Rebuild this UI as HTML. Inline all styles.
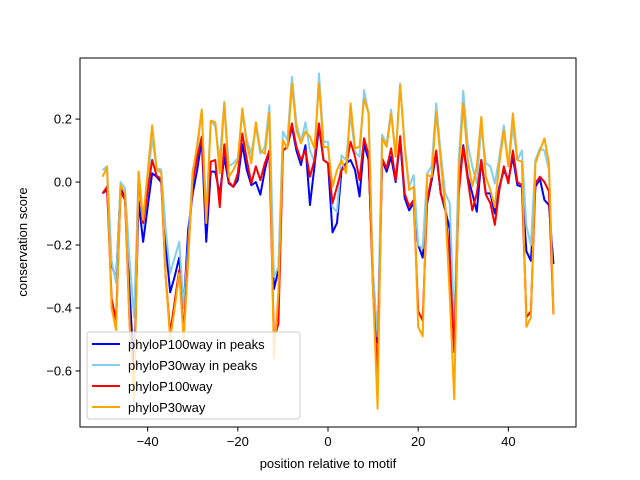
<!DOCTYPE html>
<html><head><meta charset="utf-8"><style>
body{margin:0;background:#fff;}
svg{display:block;font-family:"Liberation Sans","DejaVu Sans",sans-serif;}
</style></head><body>
<svg id="chart" width="640" height="480" xmlns="http://www.w3.org/2000/svg">
<rect width="640" height="480" fill="#fff"/>
<g id="plot"></g>
<rect x="80" y="58" width="496" height="369" fill="none" stroke="#000" stroke-width="1"/>
<g id="xt"></g>
<g id="yt"></g>
<text x="328" y="468" text-anchor="middle" font-size="13">position relative to motif</text>
<text transform="translate(27,242) rotate(-90)" text-anchor="middle" font-size="13">conservation score</text>
<g id="legend"></g>
</svg>
<script>
const seriesNames=["phyloP100way in peaks","phyloP30way in peaks","phyloP100way","phyloP30way"];
const seriesColors=["#0000ff","#87ceeb","#ff0000","#ffa500"];
const xTicks=[-40,-20,0,20,40];
const yTicks=[-0.6,-0.4,-0.2,0.0,0.2];
const yTickLabels=["−0.6","−0.4","−0.2","0.0","0.2"];
const blue=[-0.036,-0.025,-0.26,-0.31,-0.015,-0.057,-0.35,-0.6,-0.06,-0.19,-0.08,0.028,0.017,0.0,-0.2,-0.35,-0.30,-0.24,-0.4,-0.15,-0.036,0.04,0.133,-0.19,0.033,0.033,
-0.04,0.08,-0.004,-0.015,0.006,0.12,0.038,-0.01,0.0,-0.04,0.038,0.1,-0.34,-0.28,0.1,0.112,0.176,0.1,0.054,0.117,-0.073,0.05,0.176,0.07,0.06,
-0.16,-0.13,0.04,0.06,0.07,0.038,-0.046,0.12,0.07,-0.3,-0.51,0.07,0.033,0.08,0.0,0.133,-0.05,-0.09,-0.067,-0.2,-0.24,-0.067,0.006,0.09,-0.036,
-0.09,-0.15,-0.51,-0.015,0.117,0.017,-0.036,-0.094,0.07,-0.036,-0.036,-0.1,-0.015,0.038,0.006,0.08,-0.01,-0.015,-0.22,-0.25,-0.015,0.01,-0.057,-0.073,-0.26];
const sky=[0.038,0.05,-0.25,-0.32,0.0,-0.02,-0.25,-0.43,0.033,-0.14,0.0,0.14,0.043,0.04,-0.15,-0.29,-0.24,-0.19,-0.4,-0.2,0.038,0.1,0.23,-0.11,0.195,0.176,
0.07,0.255,0.05,0.06,0.075,0.218,0.133,0.09,0.176,0.09,0.112,0.244,-0.30,-0.27,0.16,0.133,0.334,0.186,0.128,0.19,0.1,0.065,0.345,0.128,0.128,
-0.08,-0.095,0.085,0.07,0.213,0.096,0.08,0.292,0.218,-0.3,-0.49,0.15,0.12,0.23,0.085,0.313,0.12,-0.015,0.022,-0.2,-0.21,0.028,0.05,0.25,0.09,
-0.036,-0.067,-0.46,0.07,0.29,0.12,0.05,-0.004,0.176,0.06,0.05,-0.004,0.08,0.18,0.05,0.176,0.07,0.1,-0.14,-0.2,0.07,0.107,0.1,0.038,-0.40];
const red=[-0.036,-0.015,-0.37,-0.44,-0.03,-0.057,-0.45,-0.68,0.028,-0.13,-0.03,0.07,0.02,0.01,-0.3,-0.48,-0.38,-0.28,-0.48,-0.22,0.0,0.08,0.144,-0.13,0.065,0.07,
-0.08,0.12,0.0,-0.015,0.028,0.154,0.07,-0.004,0.05,0.006,0.06,0.1,-0.50,-0.45,0.1,0.112,0.186,0.112,0.07,0.1,0.017,0.07,0.186,0.07,0.06,
-0.067,-0.015,0.038,0.05,0.128,0.08,0.006,0.139,0.086,-0.35,-0.62,0.075,0.043,0.107,0.006,0.146,-0.036,-0.078,-0.057,-0.41,-0.44,-0.057,0.017,0.1,-0.036,
-0.08,-0.25,-0.54,-0.036,0.112,0.006,-0.09,-0.036,0.07,-0.04,-0.067,-0.136,-0.025,0.05,-0.004,0.1,0.0,-0.01,-0.43,-0.41,-0.004,0.017,0.0,-0.03,-0.42];
const orange=[0.017,0.047,-0.40,-0.47,-0.01,-0.036,-0.45,-0.70,0.033,-0.12,0.03,0.18,0.04,0.03,-0.3,-0.5,-0.4,-0.29,-0.5,-0.25,0.03,0.12,0.23,-0.13,0.195,0.19,
0.028,0.25,0.017,0.038,0.07,0.234,0.12,0.06,0.19,0.1,0.09,0.22,-0.56,-0.35,0.133,0.107,0.313,0.165,0.123,0.16,0.144,0.107,0.313,0.112,0.11,
-0.015,0.038,0.07,0.028,0.25,0.107,0.112,0.265,0.218,-0.35,-0.72,0.139,0.112,0.218,0.08,0.308,0.112,-0.025,-0.015,-0.46,-0.49,0.022,0.017,0.223,0.07,
-0.08,-0.36,-0.69,0.038,0.25,0.07,-0.015,0.05,0.207,0.017,-0.025,-0.08,0.06,0.165,0.05,0.218,0.07,0.065,-0.46,-0.43,0.06,0.1,0.139,0.06,-0.42];
const positions=[];for(let p=-50;p<=50;p++)positions.push(p);
const NS="http://www.w3.org/2000/svg";
const X0=80,X1=576,Y0=58,Y1=427;
const xMin=-55,xMax=55,yMin=-0.778,yMax=0.394;
function sx(v){return X0+(v-xMin)/(xMax-xMin)*(X1-X0);}
function sy(v){return Y1-(v-yMin)/(yMax-yMin)*(Y1-Y0);}
function mk(tag,attrs,parent){const e=document.createElementNS(NS,tag);for(const k in attrs)e.setAttribute(k,attrs[k]);parent.appendChild(e);return e;}
const plot=document.getElementById('plot');
const all=[blue,sky,red,orange];
const keys=["blue","sky","red","orange"];
all.forEach((s,si)=>{
  const d=s.map((v,i)=>(i?'L':'M')+sx(positions[i]).toFixed(2)+','+sy(v).toFixed(2)).join('');
  const p=mk('path',{d:d,fill:'none',stroke:seriesColors[si],'stroke-width':2,'stroke-linejoin':'round'},plot);
  
  
});
const xt=document.getElementById('xt');
xTicks.forEach(t=>{
  const x=sx(t);
  const l=mk('line',{x1:x,x2:x,y1:Y1,y2:Y1+4.5,stroke:'#000','stroke-width':1},xt);
  
  
  const tx=mk('text',{x:x,y:Y1+19,'text-anchor':'middle','font-size':13},xt);
  tx.textContent=t<0?'−'+(-t):String(t);
  
  
});
const yt=document.getElementById('yt');
yTicks.forEach((t,i)=>{
  const y=sy(t);
  const l=mk('line',{x1:X0-4.5,x2:X0,y1:y,y2:y,stroke:'#000','stroke-width':1},yt);
  
  
  const tx=mk('text',{x:X0-8,y:y+4.5,'text-anchor':'end','font-size':13},yt);
  tx.textContent=yTickLabels[i];
  
  
});
const lg=document.getElementById('legend');
const box=mk('rect',{x:87,y:332,width:213,height:87,rx:3,fill:'#fff','fill-opacity':0.8,stroke:'#ccc','stroke-width':1},lg);


seriesNames.forEach((n,i)=>{
  const y=344+i*21;
  const l=mk('line',{x1:92,x2:120,y1:y,y2:y,stroke:seriesColors[i],'stroke-width':2},lg);
  
  
  const tx=mk('text',{x:128,y:y+5,'font-size':13},lg);
  tx.textContent=n;
  
  
});
</script>
</body></html>
